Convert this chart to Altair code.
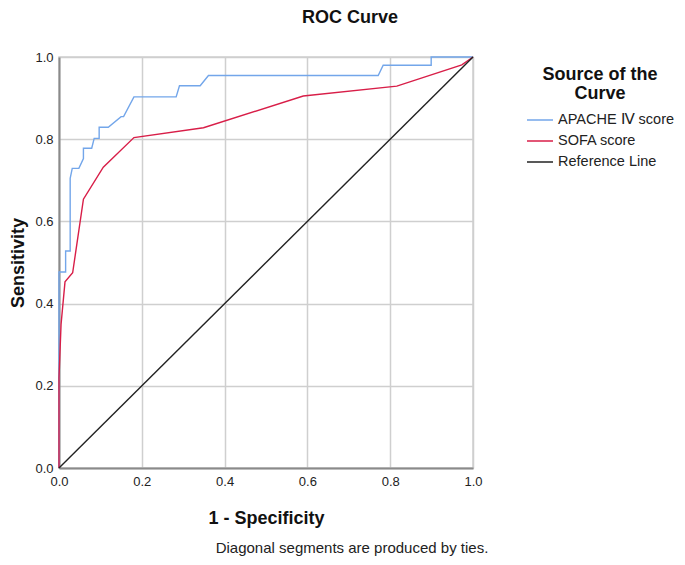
import altair as alt
import pandas as pd

# APACHE IV score ROC points (1 - specificity, sensitivity)
apache_x = [0.0, 0.0, 0.016, 0.016, 0.027, 0.027, 0.032, 0.048, 0.059, 0.059, 0.079, 0.085, 0.097, 0.097,
            0.119, 0.150, 0.156, 0.181, 0.283, 0.291, 0.341, 0.361, 0.771, 0.783, 0.899, 0.899, 1.0]
apache_y = [0.0, 0.477, 0.477, 0.528, 0.528, 0.705, 0.729, 0.729, 0.753, 0.778, 0.778, 0.802, 0.802, 0.829,
            0.829, 0.855, 0.855, 0.903, 0.903, 0.930, 0.930, 0.955, 0.955, 0.980, 0.980, 1.0, 1.0]

# SOFA score ROC points
sofa_x = [0.0, 0.0, 0.005, 0.0145, 0.033, 0.059, 0.107, 0.181, 0.349, 0.590, 0.816, 0.973, 1.0]
sofa_y = [0.0, 0.22, 0.35, 0.453, 0.475, 0.654, 0.732, 0.804, 0.828, 0.905, 0.929, 0.981, 1.0]

ref_x = [0.0, 1.0]
ref_y = [0.0, 1.0]

series_names = ["APACHE Ⅳ score", "SOFA score", "Reference Line"]
series_colors = ["#73a6ea", "#d81e48", "#222222"]
ticks = [0.0, 0.2, 0.4, 0.6, 0.8, 1.0]

rows = []
for name, xs, ys in zip(series_names, [apache_x, sofa_x, ref_x], [apache_y, sofa_y, ref_y]):
    for i, (a, b) in enumerate(zip(xs, ys)):
        rows.append({"series": name, "fpr": a, "tpr": b, "ord": i})
df = pd.DataFrame(rows)

lines = alt.Chart(df).mark_line(strokeWidth=1.4).encode(
    x=alt.X("fpr:Q", scale=alt.Scale(domain=[0, 1]),
            axis=alt.Axis(values=ticks, format=".1f", title="1 - Specificity",
                          titlePadding=21, labelPadding=7)),
    y=alt.Y("tpr:Q", scale=alt.Scale(domain=[0, 1]),
            axis=alt.Axis(values=ticks, format=".1f", title="Sensitivity",
                          titlePadding=7, labelPadding=6)),
    color=alt.Color("series:N",
                    scale=alt.Scale(domain=series_names, range=series_colors),
                    legend=alt.Legend(title=["Source of the", "Curve"], orient="none",
                                      legendX=467, legendY=9)),
    order="ord:Q",
)

note = alt.Chart(pd.DataFrame({"t": ["Diagonal segments are produced by ties."]})).mark_text(
    font="Liberation Sans", fontSize=15, color="#222222", align="center", baseline="alphabetic"
).encode(text="t:N", x=alt.value(293), y=alt.value(496))

chart = alt.layer(lines, note).properties(
    width=414, height=411,
    title=alt.TitleParams("ROC Curve", fontSize=18, fontWeight="bold", font="Liberation Sans",
                          color="#111111", anchor="middle", dx=84, offset=24),
    autosize=alt.AutoSizeParams(type="none"),
    padding={"left": 51, "top": 49, "right": 204, "bottom": 89},
).configure_view(
    stroke="#cfcfcf", strokeWidth=1.5
).configure_axis(
    labelFont="Liberation Sans", labelFontSize=13, labelColor="#222222", labelFlush=False,
    titleFont="Liberation Sans", titleFontSize=18, titleFontWeight="bold", titleColor="#111111",
    grid=True, gridColor="#cfcfcf", gridWidth=1.5,
    domainColor="#8a8a8a", domainWidth=2, ticks=False,
).configure_legend(
    titleFont="Liberation Sans", titleFontSize=18, titleFontWeight="bold", titleColor="#111111",
    titleAlign="center", titleAnchor="middle", titleLineHeight=19, titlePadding=3,
    labelFont="Liberation Sans", labelFontSize=14.5, labelColor="#222222",
    symbolType="stroke", symbolSize=676, symbolStrokeWidth=1.5, labelOffset=4,
    rowPadding=-14, padding=0,
)

chart.save("out.html", embed_options={"renderer": "svg", "actions": False})
